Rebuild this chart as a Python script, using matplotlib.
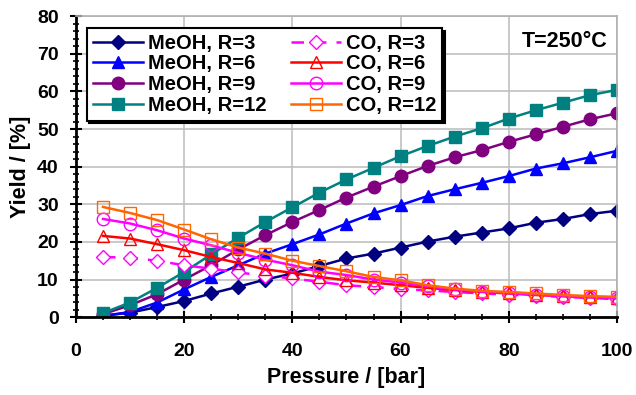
import numpy as np
import matplotlib.pyplot as plt
from matplotlib.ticker import MultipleLocator

# pressure points
pressure = [5, 10, 15, 20, 25, 30, 35, 40, 45, 50, 55, 60, 65, 70, 75, 80, 85, 90, 95, 100]

meoh_r3 = [0.4, 1.2, 2.7, 4.3, 6.3, 8.1, 10.0, 11.6, 13.6, 15.6, 16.9, 18.5, 20.1, 21.4, 22.5, 23.6, 25.1, 26.1, 27.4, 28.3]
meoh_r6 = [0.3, 1.4, 3.9, 7.4, 10.7, 13.8, 16.9, 19.4, 22.0, 24.9, 27.6, 29.8, 32.2, 34.0, 35.7, 37.5, 39.5, 40.9, 42.5, 44.2]
meoh_r9 = [0.8, 3.2, 6.1, 10.0, 13.8, 18.0, 21.8, 25.3, 28.5, 31.8, 34.7, 37.5, 40.2, 42.5, 44.4, 46.6, 48.6, 50.6, 52.6, 54.2]
meoh_r12 = [1.1, 3.9, 7.8, 12.0, 16.7, 21.1, 25.3, 29.2, 33.1, 36.6, 39.7, 42.8, 45.5, 48.0, 50.2, 52.8, 55.0, 57.0, 59.0, 60.4]
co_r3 = [16.0, 15.8, 15.0, 13.8, 12.9, 11.9, 11.0, 10.3, 9.4, 8.5, 8.0, 7.5, 7.1, 6.7, 6.3, 6.0, 5.7, 5.4, 5.1, 4.8]
co_r6 = [21.6, 20.9, 19.4, 17.8, 16.0, 14.4, 12.7, 11.8, 10.7, 9.8, 9.2, 8.5, 7.8, 7.2, 6.7, 6.3, 5.9, 5.6, 5.3, 5.0]
co_r9 = [26.1, 24.9, 23.1, 20.9, 19.1, 17.1, 15.3, 13.8, 12.1, 11.2, 10.0, 9.2, 8.2, 7.4, 6.8, 6.4, 6.0, 5.6, 5.3, 5.1]
co_r12 = [29.3, 27.7, 25.8, 23.3, 20.7, 18.5, 16.9, 15.0, 13.6, 12.2, 10.7, 9.8, 8.5, 7.6, 7.0, 6.7, 6.3, 5.9, 5.6, 5.4]

plt.rcParams['font.family'] = ['Liberation Sans', 'DejaVu Sans']
plt.rcParams['font.weight'] = 'bold'

fig = plt.figure(figsize=(6.36, 3.95), dpi=100)
ax = fig.add_axes([0.1195, 0.197, 0.8505, 0.762])

ax.plot(pressure, meoh_r3, color='#000080', marker='D', ms=7, lw=1.8, label='MeOH, R=3')
ax.plot(pressure, meoh_r6, color='#0000FF', marker='^', ms=9, lw=1.8, label='MeOH, R=6')
ax.plot(pressure, meoh_r9, color='#800080', marker='o', ms=9, lw=1.8, label='MeOH, R=9')
ax.plot(pressure, meoh_r12, color='#008080', marker='s', ms=8, lw=1.8, label='MeOH, R=12')
ax.plot(pressure, co_r3, color='#FF00FF', marker='D', ms=7, mfc='white', lw=1.8,
        linestyle=(0, (5, 4)), label='CO, R=3')
ax.plot(pressure, co_r6, color='#FF0000', marker='^', ms=9, mfc='none', lw=1.8, label='CO, R=6')
ax.plot(pressure, co_r9, color='#FF00FF', marker='o', ms=9, mfc='none', lw=1.8, label='CO, R=9')
ax.plot(pressure, co_r12, color='#FF6600', marker='s', ms=9, mfc='none', lw=1.8, label='CO, R=12')

ax.set_xlim(0, 100)
ax.set_ylim(0, 80)
ax.xaxis.set_major_locator(MultipleLocator(20))
ax.xaxis.set_minor_locator(MultipleLocator(5))
ax.yaxis.set_major_locator(MultipleLocator(10))
ax.yaxis.set_minor_locator(MultipleLocator(2))
ax.grid(True, which='major', color='#c0c0c0', lw=1.2)
ax.set_axisbelow(True)

ax.tick_params(which='major', direction='inout', length=9, width=1.5, labelsize=14)
ax.tick_params(which='minor', direction='inout', length=5, width=1.2)
ax.tick_params(axis='x', which='major', pad=14)
ax.tick_params(axis='y', which='major', pad=8)
for s in ['left', 'bottom']:
    ax.spines[s].set_linewidth(2)
for s in ['top', 'right']:
    ax.spines[s].set_color('#b0b0b0')
    ax.spines[s].set_linewidth(1.2)

ax.set_xlabel('Pressure / [bar]', fontsize=15.5, fontweight='bold', labelpad=5)
ax.set_ylabel('Yield / [%]', fontsize=15.5, fontweight='bold', labelpad=4)

leg = ax.legend(ncol=2, loc='upper left', bbox_to_anchor=(0.012, 0.975), fontsize=14.5,
                frameon=True, fancybox=False, edgecolor='black', framealpha=1,
                shadow={'color': 'black', 'alpha': 1}, borderpad=0.3,
                labelspacing=0.08, handlelength=2.5, handletextpad=0.25,
                columnspacing=1.2, borderaxespad=0.2)
leg.get_frame().set_linewidth(1.5)

ax.text(0.982, 0.915, 'T=250°C', transform=ax.transAxes, ha='right', va='center',
        fontsize=15.5, fontweight='bold')

fig.savefig('out.png', dpi=100)
